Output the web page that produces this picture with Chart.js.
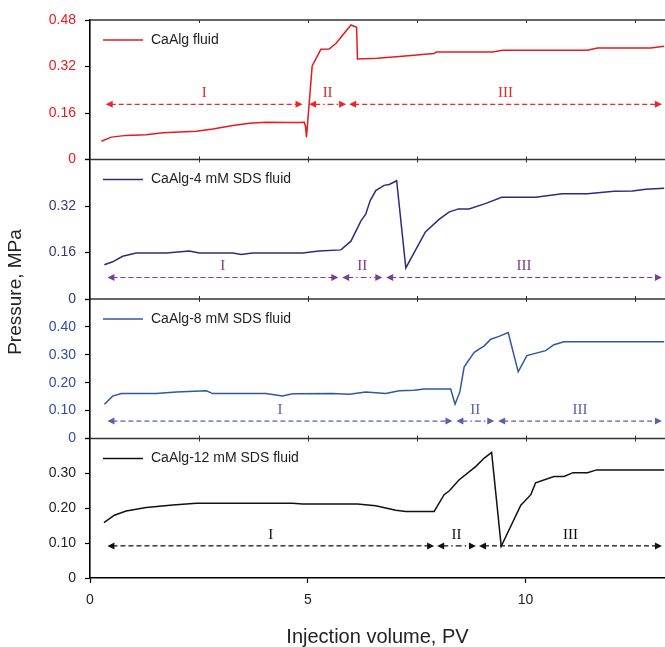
<!DOCTYPE html>
<html>
<head>
<meta charset="utf-8">
<script src="https://cdn.jsdelivr.net/npm/chart.js@4.4.1/dist/chart.umd.min.js"></script>
<style>
  html, body { margin: 0; padding: 0; background: #fff; }
  canvas { display: block; }
</style>
</head>
<body>
<canvas id="pressureChart" width="665" height="647"></canvas>
<script>
// values: injection volume (PV) vs pressure (MPa)
const caAlgPv = [0.26, 0.49, 0.83, 1.29, 1.67, 2.44, 2.82, 3.28, 3.66, 4.04, 4.50, 4.80, 4.92, 4.95, 4.97, 5.10, 5.30, 5.49, 5.65, 5.99, 6.12, 6.14, 6.60, 7.10, 7.90, 7.95, 9.24, 9.47, 11.42, 11.65, 12.87, 13.18];
const caAlgP = [0.063, 0.077, 0.083, 0.085, 0.092, 0.097, 0.105, 0.117, 0.125, 0.128, 0.127, 0.127, 0.128, 0.112, 0.077, 0.322, 0.379, 0.380, 0.400, 0.463, 0.455, 0.346, 0.348, 0.354, 0.365, 0.370, 0.370, 0.376, 0.376, 0.384, 0.384, 0.390];

const sds4Pv = [0.33, 0.52, 0.75, 1.06, 1.75, 2.28, 2.51, 3.28, 3.47, 3.73, 4.88, 5.26, 5.76, 5.99, 6.22, 6.33, 6.43, 6.56, 6.75, 6.87, 7.04, 7.25, 7.70, 8.02, 8.25, 8.46, 8.70, 9.09, 9.45, 10.23, 10.84, 11.42, 12.03, 12.45, 12.76, 13.18];
const sds4P = [0.118, 0.128, 0.147, 0.158, 0.158, 0.165, 0.158, 0.158, 0.153, 0.158, 0.158, 0.165, 0.169, 0.199, 0.269, 0.292, 0.338, 0.373, 0.391, 0.394, 0.407, 0.107, 0.231, 0.275, 0.300, 0.310, 0.310, 0.329, 0.350, 0.350, 0.362, 0.362, 0.371, 0.372, 0.378, 0.381];

const sds8Pv = [0.33, 0.52, 0.72, 1.52, 1.98, 2.67, 2.82, 4.04, 4.42, 4.65, 5.57, 5.95, 6.33, 6.79, 7.10, 7.44, 7.67, 8.28, 8.38, 8.49, 8.59, 8.82, 9.05, 9.20, 9.39, 9.60, 9.83, 10.03, 10.46, 10.65, 10.88, 13.18];
const sds8P = [0.123, 0.152, 0.161, 0.161, 0.167, 0.171, 0.161, 0.161, 0.152, 0.160, 0.161, 0.159, 0.167, 0.161, 0.171, 0.173, 0.177, 0.177, 0.123, 0.167, 0.257, 0.309, 0.332, 0.356, 0.366, 0.380, 0.239, 0.297, 0.315, 0.336, 0.347, 0.347];

const sds12Pv = [0.32, 0.56, 0.83, 1.29, 1.90, 2.44, 4.65, 4.88, 6.14, 6.56, 7.02, 7.25, 7.90, 8.13, 8.25, 8.47, 8.86, 9.05, 9.22, 9.44, 9.89, 10.12, 10.23, 10.65, 10.88, 11.09, 11.42, 11.63, 13.18];
const sds12P = [0.159, 0.180, 0.192, 0.202, 0.209, 0.214, 0.214, 0.212, 0.212, 0.207, 0.194, 0.191, 0.191, 0.239, 0.250, 0.281, 0.320, 0.344, 0.360, 0.091, 0.209, 0.239, 0.273, 0.291, 0.291, 0.302, 0.302, 0.310, 0.310];

const seriesNames = ['CaAlg fluid', 'CaAlg-4 mM SDS fluid', 'CaAlg-8 mM SDS fluid', 'CaAlg-12 mM SDS fluid'];

// flow stages I / II / III (PV ranges) and the pressure level of each arrow
const stageNames = ['I', 'II', 'III'];
const stages1 = [[0.36, 4.88], [5.03, 5.88], [5.95, 13.13]];
const stages2 = [[0.40, 5.70], [5.79, 6.71], [6.80, 13.13]];
const stages3 = [[0.40, 8.32], [8.41, 9.28], [9.37, 13.13]];
const stages4 = [[0.40, 7.90], [7.97, 8.86], [8.93, 13.13]];
const stageLevels = [0.19, 0.074, 0.0625, 0.092];

// y axis ranges per panel
const yMax = [0.48, 0.48, 0.5, 0.4];
const yStep = [0.16, 0.16, 0.1, 0.1];
const xTicks = [0, 5, 10];

const FONT = '"Liberation Sans", Arial, sans-serif';
const SERIF = '"Liberation Serif", "Times New Roman", serif';

const panels = [
  { pv: caAlgPv, p: caAlgP, stages: stages1, color: '#e8191e', tick: '#e8191e', mark: '#e8262b' },
  { pv: sds4Pv, p: sds4P, stages: stages2, color: '#2b2d7c', tick: '#3a3a78', mark: '#7d3c98' },
  { pv: sds8Pv, p: sds8P, stages: stages3, color: '#3056a8', tick: '#2f4fa3', mark: '#5a5fb0' },
  { pv: sds12Pv, p: sds12P, stages: stages4, color: '#111111', tick: '#222222', mark: '#111111' }
];

function toPoints(xs, ys) {
  return xs.map((x, i) => ({ x: x, y: ys[i] }));
}

const datasets = panels.map((pn, i) => ({
  label: seriesNames[i],
  data: toPoints(pn.pv, pn.p),
  yAxisID: 'y' + (i + 1),
  borderColor: pn.color,
  borderWidth: 1.5,
  pointRadius: 0,
  tension: 0,
  fill: false
}));

const scales = {
  x: {
    type: 'linear',
    min: 0,
    max: 13.2,
    afterFit: s => { s.height = 69; },
    afterBuildTicks: s => { s.ticks = xTicks.map(v => ({ value: v })); },
    ticks: { color: '#222', padding: 9, font: { family: FONT, size: 14 } },
    grid: { drawOnChartArea: false, tickLength: 5, color: '#000', tickWidth: 1.2 },
    border: { color: '#000', width: 1.6 }
  }
};
scales.x.title = {
  display: true,
  text: 'Injection volume, PV',
  color: '#222',
  font: { family: FONT, size: 20, lineHeight: 1 },
  padding: { top: 0, bottom: 0 }
};

// stacked y axes: the last one declared ends up on top, so go bottom-up
for (let i = panels.length - 1; i >= 0; i--) {
  const pn = panels[i];
  scales['y' + (i + 1)] = {
    type: 'linear',
    position: 'left',
    stack: 'panels',
    stackWeight: 1,
    min: 0,
    max: yMax[i],
    afterFit: s => { s.width = 90; },
    ticks: {
      stepSize: yStep[i],
      autoSkip: false,
      color: pn.tick,
      padding: 9,
      font: { family: FONT, size: 14 },
      callback: v => {
        if (i > 0 && v > yMax[i] - 1e-6) return '';
        return v === 0 ? '0' : v.toFixed(2);
      }
    },
    grid: { drawOnChartArea: false, tickLength: 5, color: '#000', tickWidth: 1.2 },
    border: { color: '#000', width: 1.6 }
  };
}

function arrowHead(ctx, x, y, dir) {
  ctx.beginPath();
  ctx.moveTo(x, y);
  ctx.lineTo(x - dir * 7, y - 3.5);
  ctx.lineTo(x - dir * 7, y + 3.5);
  ctx.closePath();
  ctx.fill();
}

const panelDecor = {
  id: 'panelDecor',
  afterDatasetsDraw(chart) {
    const { ctx, chartArea } = chart;
    const xs = chart.scales.x;
    ctx.save();

    panels.forEach((pn, i) => {
      const ys = chart.scales['y' + (i + 1)];
      const isTop = ys.top <= chartArea.top + 1;

      // panel top border with small ticks
      ctx.strokeStyle = '#333';
      ctx.lineWidth = 1.6;
      ctx.beginPath();
      ctx.moveTo(chartArea.left, ys.top);
      ctx.lineTo(chartArea.right, ys.top);
      ctx.stroke();
      ctx.lineWidth = 1;
      [2.5, 5, 7.5, 10, 12.5].forEach(v => {
        const px = Math.round(xs.getPixelForValue(v)) + 0.5;
        ctx.beginPath();
        ctx.moveTo(px, ys.top - (isTop ? 0 : 3));
        ctx.lineTo(px, ys.top + 3);
        ctx.stroke();
      });

      // legend inside panel
      const ly = ys.top + 20;
      ctx.strokeStyle = pn.color;
      ctx.lineWidth = 1.5;
      ctx.beginPath();
      ctx.moveTo(chartArea.left + 13, ly);
      ctx.lineTo(chartArea.left + 53, ly);
      ctx.stroke();
      ctx.fillStyle = '#222';
      ctx.font = '14px ' + FONT;
      ctx.textAlign = 'left';
      ctx.textBaseline = 'middle';
      ctx.fillText(seriesNames[i], chartArea.left + 61, ly);

      // stage arrows
      const ay = ys.getPixelForValue(stageLevels[i]);
      ctx.strokeStyle = pn.mark;
      ctx.fillStyle = pn.mark;
      pn.stages.forEach((rg, k) => {
        const x0 = xs.getPixelForValue(rg[0]);
        const x1 = xs.getPixelForValue(rg[1]);
        ctx.lineWidth = 1.2;
        ctx.setLineDash(k === 1 ? [6, 3, 1.5, 3] : [5, 3]);
        ctx.beginPath();
        ctx.moveTo(x0 + 5, ay);
        ctx.lineTo(x1 - 5, ay);
        ctx.stroke();
        ctx.setLineDash([]);
        arrowHead(ctx, x0, ay, -1);
        arrowHead(ctx, x1, ay, 1);
        ctx.font = '15px ' + SERIF;
        ctx.textAlign = 'center';
        ctx.textBaseline = 'middle';
        ctx.fillText(stageNames[k], (x0 + x1) / 2, ay - 11);
      });
    });

    // shared y title
    ctx.fillStyle = '#222';
    ctx.font = '19px ' + FONT;
    ctx.textAlign = 'center';
    ctx.textBaseline = 'middle';
    ctx.translate(16, (chartArea.top + chartArea.bottom) / 2 - 7);
    ctx.rotate(-Math.PI / 2);
    ctx.fillText('Pressure, MPa', 0, 0);
    ctx.restore();
  }
};

const ctx = document.getElementById('pressureChart').getContext('2d');
new Chart(ctx, {
  type: 'line',
  data: { datasets: datasets },
  options: {
    responsive: false,
    animation: false,
    layout: { padding: { top: 20, left: 0, right: 0, bottom: 0 } },
    plugins: {
      legend: { display: false },
      tooltip: { enabled: false }
    },
    scales: scales
  },
  plugins: [panelDecor]
});
</script>
</body>
</html>
